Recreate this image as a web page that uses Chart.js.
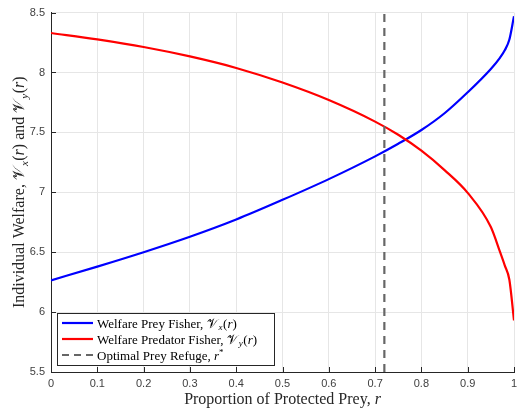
<!DOCTYPE html>
<html>
<head>
<meta charset="utf-8">
<script src="https://cdn.jsdelivr.net/npm/chart.js@4.4.0/dist/chart.umd.min.js"></script>
<style>
  html, body { margin: 0; padding: 0; background: #fff; }
  #wrap { width: 524px; height: 413px; }
</style>
</head>
<body>
<div id="wrap"><canvas id="welfareChart" width="524" height="413"></canvas></div>
<script>
// values
const rValues = [0, 0.1, 0.2, 0.3, 0.4, 0.5, 0.6, 0.7, 0.75, 0.8, 0.85, 0.9, 0.95, 0.97, 0.98, 0.99, 1];
const preyWelfare = [6.265, 6.38, 6.50, 6.629, 6.773, 6.937, 7.11, 7.30, 7.405, 7.52, 7.66, 7.835, 8.03, 8.125, 8.185, 8.275, 8.47];
const predatorWelfare = [8.33, 8.276, 8.213, 8.134, 8.038, 7.916, 7.77, 7.59, 7.48, 7.347, 7.185, 6.995, 6.71, 6.50, 6.39, 6.27, 5.93];
const refugeR = 0.72;
const xTicks = [0, 0.1, 0.2, 0.3, 0.4, 0.5, 0.6, 0.7, 0.8, 0.9, 1];
const yTicks = [5.5, 6, 6.5, 7, 7.5, 8, 8.5];

const SERIF = '"Liberation Serif", "DejaVu Serif", serif';
const SANS = '"Liberation Sans", Arial, sans-serif';
const AXIS_COLOR = '#262626';

// draw a run of text pieces, some italic / sub- or superscript
function drawRich(ctx, parts, x, y, size, align) {
  const fontOf = (p) => (p.it ? 'italic ' : '') + (p.sub || p.sup ? Math.round(size * 0.7) : size) + 'px ' + SERIF;
  const widthOf = (p) => { ctx.font = fontOf(p); return ctx.measureText(p.t).width + (p.gap || 0); };
  const w = parts.reduce((s, p) => s + widthOf(p), 0);
  let cx = align === 'center' ? x - w / 2 : x;
  ctx.textAlign = 'left';
  ctx.textBaseline = 'alphabetic';
  parts.forEach((p) => {
    ctx.font = fontOf(p);
    let dy = 0;
    if (p.sub) dy = size * 0.22;
    if (p.sup) dy = -size * 0.38;
    ctx.fillText(p.t, cx, y + dy);
    cx += widthOf(p);
  });
}

const vx = [{ t: '𝒱', gap: 1 }, { t: 'x', it: true, sub: true, gap: 0.5 }, { t: '(' }, { t: 'r', it: true }, { t: ')' }];
const vy = [{ t: '𝒱', gap: 1 }, { t: 'y', it: true, sub: true, gap: 0.5 }, { t: '(' }, { t: 'r', it: true }, { t: ')' }];

const legendItems = [
  { color: '#0000ff', dash: [], parts: [{ t: 'Welfare Prey Fisher, ' }, ...vx] },
  { color: '#ff0000', dash: [], parts: [{ t: 'Welfare Predator Fisher, ' }, ...vy] },
  { color: '#666666', dash: [7, 5], parts: [{ t: 'Optimal Prey Refuge, ' }, { t: 'r', it: true }, { t: '*', sup: true }] },
];

const decorations = {
  id: 'decorations',
  afterDatasetsDraw(chart) {
    const { ctx, chartArea, scales } = chart;
    ctx.save();

    // inward tick marks
    ctx.strokeStyle = AXIS_COLOR;
    ctx.lineWidth = 1;
    ctx.beginPath();
    xTicks.forEach((v) => {
      const px = Math.round(scales.x.getPixelForValue(v)) + 0.5;
      ctx.moveTo(px, chartArea.bottom);
      ctx.lineTo(px, chartArea.bottom - 5);
    });
    yTicks.forEach((v) => {
      const py = Math.round(scales.y.getPixelForValue(v)) + 0.5;
      ctx.moveTo(chartArea.left, py);
      ctx.lineTo(chartArea.left + 5, py);
    });
    ctx.stroke();

    // legend box
    const bx = 57, by = 313, bw = 217, bh = 52;
    ctx.fillStyle = '#fff';
    ctx.fillRect(bx, by, bw, bh);
    ctx.strokeStyle = AXIS_COLOR;
    ctx.strokeRect(bx + 0.5, by + 0.5, bw, bh);
    legendItems.forEach((item, i) => {
      const cy = by + 10 + i * 16;
      ctx.strokeStyle = item.color;
      ctx.lineWidth = 2.2;
      ctx.setLineDash(item.dash);
      ctx.beginPath();
      ctx.moveTo(62, cy);
      ctx.lineTo(93, cy);
      ctx.stroke();
      ctx.setLineDash([]);
      ctx.fillStyle = '#000';
      drawRich(ctx, item.parts, 97, cy + 4.5, 13, 'left');
    });

    // axis titles
    ctx.fillStyle = '#262626';
    drawRich(ctx, [{ t: 'Proportion of Protected Prey, ' }, { t: 'r', it: true }],
      (chartArea.left + chartArea.right) / 2, 404, 16, 'center');
    ctx.translate(24, (chartArea.top + chartArea.bottom) / 2);
    ctx.rotate(-Math.PI / 2);
    drawRich(ctx, [{ t: 'Individual Welfare, ' }, ...vx, { t: ' and ' }, ...vy], 0, 0, 16, 'center');
    ctx.restore();
  },
};

new Chart(document.getElementById('welfareChart'), {
  type: 'line',
  data: {
    datasets: [
      {
        label: 'Welfare Prey Fisher',
        data: rValues.map((r, i) => ({ x: r, y: preyWelfare[i] })),
        borderColor: '#0000ff',
        borderWidth: 2.2,
        pointRadius: 0,
        cubicInterpolationMode: 'monotone',
        order: 3,
      },
      {
        label: 'Welfare Predator Fisher',
        data: rValues.map((r, i) => ({ x: r, y: predatorWelfare[i] })),
        borderColor: '#ff0000',
        borderWidth: 2.2,
        pointRadius: 0,
        cubicInterpolationMode: 'monotone',
        order: 2,
      },
      {
        label: 'Optimal Prey Refuge',
        data: [{ x: refugeR, y: yTicks[0] }, { x: refugeR, y: yTicks[yTicks.length - 1] }],
        borderColor: '#666666',
        borderWidth: 2.2,
        borderDash: [8, 6],
        pointRadius: 0,
        order: 1,
      },
    ],
  },
  options: {
    responsive: false,
    animation: false,
    layout: { padding: { top: 6, right: 10, left: 0, bottom: 0 } },
    plugins: {
      legend: { display: false },
      tooltip: { enabled: false },
    },
    scales: {
      x: {
        type: 'linear',
        min: 0,
        max: 1,
        afterFit: (scale) => { scale.height = 41; },
        afterBuildTicks: (scale) => { scale.ticks = xTicks.map((v) => ({ value: v })); },
        ticks: {
          color: '#404040',
          font: { family: SANS, size: 11 },
          padding: 5,
          maxRotation: 0,
          callback: (v) => String(v),
        },
        grid: { color: '#e6e6e6', lineWidth: 1, drawTicks: false },
        border: { display: true, color: AXIS_COLOR, width: 1 },
      },
      y: {
        min: 5.5,
        max: 8.5,
        afterFit: (scale) => { scale.width = 51; },
        afterBuildTicks: (scale) => { scale.ticks = yTicks.map((v) => ({ value: v })); },
        ticks: {
          color: '#404040',
          font: { family: SANS, size: 11 },
          padding: 6,
          callback: (v) => String(v),
        },
        grid: { color: '#e6e6e6', lineWidth: 1, drawTicks: false },
        border: { display: true, color: AXIS_COLOR, width: 1 },
      },
    },
  },
  plugins: [decorations],
});
</script>
</body>
</html>
